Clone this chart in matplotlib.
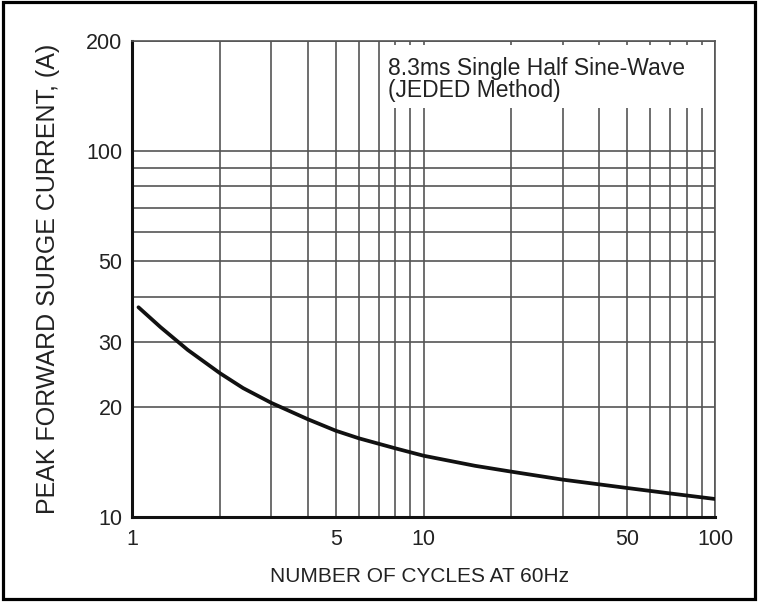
import matplotlib
matplotlib.use('Agg')
import matplotlib.pyplot as plt
from matplotlib.ticker import FixedLocator, FixedFormatter, NullFormatter
from matplotlib.patches import Rectangle

# ---- data ----
cycles = [1.05, 1.25, 1.55, 2, 2.4, 3, 4, 5, 6, 8, 10, 15, 20, 30, 50, 70, 100]
current = [37.4, 33.0, 28.6, 24.7, 22.5, 20.5, 18.5, 17.2, 16.4, 15.4, 14.7,
           13.8, 13.3, 12.65, 12.0, 11.6, 11.2]

x_ticks = [1, 5, 10, 50, 100]
x_tick_labels = ['1', '5', '10', '50', '100']
x_grid = [1, 2, 3, 4, 5, 6, 7, 8, 9, 10, 20, 30, 40, 50, 60, 70, 80, 90, 100]

y_ticks = [10, 20, 30, 50, 100, 200]
y_tick_labels = ['10', '20', '30', '50', '100', '200']
y_grid = [10, 20, 30, 40, 50, 60, 70, 80, 90, 100, 200]

x_label = 'NUMBER OF CYCLES AT 60Hz'
y_label = 'PEAK FORWARD SURGE CURRENT, (A)'
note_line1 = '8.3ms Single Half Sine-Wave'
note_line2 = '(JEDED Method)'

# ---- figure ----
W, H = 760, 603
fig = plt.figure(figsize=(W / 100, H / 100), dpi=100)
fig.patch.set_facecolor('white')

def fx(px):
    return px / W

def fy(py):
    return 1 - py / H

ax_l, ax_r, ax_t, ax_b = 132.3, 715.0, 40.7, 517.0
ax = fig.add_axes([fx(ax_l), fy(ax_b), fx(ax_r) - fx(ax_l), fy(ax_t) - fy(ax_b)])

ax.set_xscale('log')
ax.set_yscale('log')
ax.set_xlim(1, 100)
ax.set_ylim(10, 200)

grid_color = '#555555'
ax.xaxis.set_major_locator(FixedLocator(x_ticks))
ax.xaxis.set_major_formatter(FixedFormatter(x_tick_labels))
ax.xaxis.set_minor_locator(FixedLocator(x_grid))
ax.xaxis.set_minor_formatter(NullFormatter())
ax.yaxis.set_major_locator(FixedLocator(y_ticks))
ax.yaxis.set_major_formatter(FixedFormatter(y_tick_labels))
ax.yaxis.set_minor_locator(FixedLocator(y_grid))
ax.yaxis.set_minor_formatter(NullFormatter())

ax.grid(which='minor', color=grid_color, linewidth=1.2)
ax.grid(which='major', color=grid_color, linewidth=1.2)
ax.set_axisbelow(True)

tick_family = ['Liberation Sans', 'DejaVu Sans']
ax.tick_params(which='both', length=0, colors='#222222')
ax.tick_params(axis='x', which='major', pad=8.5)
ax.tick_params(axis='y', which='major', pad=7)
for lab in ax.get_xticklabels() + ax.get_yticklabels():
    lab.set_fontfamily(tick_family)
    lab.set_fontsize(15.5)

for side in ['left', 'bottom']:
    ax.spines[side].set_color('#111111')
    ax.spines[side].set_linewidth(2.2)
for side in ['top', 'right']:
    ax.spines[side].set_color(grid_color)
    ax.spines[side].set_linewidth(1.2)

# curve
ax.plot(cycles, current, color='#111111', linewidth=2.7,
        solid_capstyle='round', solid_joinstyle='round', zorder=3)

# white box behind the note
x0 = (385 - ax_l) / (ax_r - ax_l)
x1 = (705 - ax_l) / (ax_r - ax_l)
y0 = (ax_b - 108) / (ax_b - ax_t)
y1 = (ax_b - 45) / (ax_b - ax_t)
ax.add_patch(Rectangle((x0, y0), x1 - x0, y1 - y0, transform=ax.transAxes,
                       facecolor='white', edgecolor='none', zorder=1))

note_font = dict(family=['Liberation Sans', 'DejaVu Sans'], size=16.5, color='#222222')
tx = (388 - ax_l) / (ax_r - ax_l)
ax.text(tx, (ax_b - 74.5) / (ax_b - ax_t), note_line1, transform=ax.transAxes,
        ha='left', va='baseline', zorder=4, **note_font)
ax.text(tx, (ax_b - 97.0) / (ax_b - ax_t), note_line2, transform=ax.transAxes,
        ha='left', va='baseline', zorder=4, **note_font)

# axis labels
fig.text(fx(419), fy(576), x_label, ha='center', va='center',
         family=['Liberation Sans', 'DejaVu Sans'], size=15, color='#222222')
fig.text(fx(48), fy(278.5), y_label, ha='center', va='center', rotation=90,
         family=['Liberation Sans', 'DejaVu Sans'], size=18, color='#222222')

# outer frame
fig.patches.append(Rectangle((fx(2.5), fy(599)), fx(755) - fx(2.5), fy(2) - fy(599),
                             transform=fig.transFigure, fill=False,
                             edgecolor='black', linewidth=2.3))

fig.savefig('out.png', dpi=100, facecolor='white')
